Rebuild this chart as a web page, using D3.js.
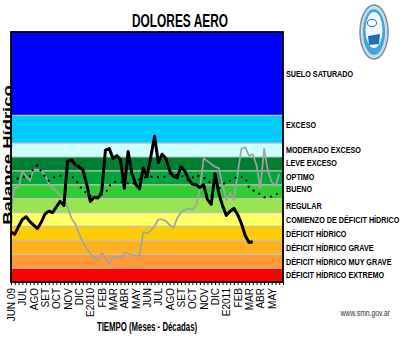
<!DOCTYPE html>
<html><head><meta charset="utf-8">
<script src="https://cdn.jsdelivr.net/npm/d3@7"></script>
<style>
html,body{margin:0;padding:0;background:#fff;}
text{font-family:"Liberation Sans",Arial,sans-serif;}
</style></head>
<body><div id="chart"></div>
<script>
// ---- data ----
const title = "DOLORES AERO";
const yTitle = "Balance Hídrico";
const xTitle = "TIEMPO (Meses - Décadas)";
const source = "www.smn.gov.ar";
const monthLabels = ["JUN 09","JUL","AGO","SET","OCT","NOV","DIC","E2010","FEB","MAR","ABR","MAY",
                     "JUN","JUL","AGO","SET","OCT","NOV","DIC","E2011","FEB","MAR","ABR","MAY"];
const bandNames = ["DÉFICIT HÍDRICO EXTREMO","DÉFICIT HÍDRICO MUY GRAVE","DÉFICIT HÍDRICO GRAVE","DÉFICIT HÍDRICO",
                   "COMIENZO DE DÉFICIT HÍDRICO","REGULAR","BUENO","OPTIMO","LEVE EXCESO","MODERADO EXCESO","EXCESO","SUELO SATURADO"];
const bandBreaks = [0,1,2,3,4,5,6,7,8,9,10,12,18];
const bandLabelValues = [0.5,1.5,2.5,3.5,4.5,5.5,6.7,7.6,8.6,9.5,11.3,15];
const bandColors = ["#FF0000","#FF9933","#FFB01F","#FFCC00","#FFFF66","#99E550","#33CC33","#00A53C","#007F33","#CCFFFF","#00CCFF","#0000FF"];

// current period (one value per decade)
const actual = [3.6,3.45,4.0,4.5,4.7,4.35,4.1,3.85,4.3,4.9,5.1,5.0,5.4,5.8,5.5,8.7,8.8,8.45,8.3,8.1,
                7.1,5.8,6.1,6.05,6.45,9.5,9.6,8.9,9.1,8.8,6.75,9.4,7.8,7.05,6.7,8.2,7.6,9.0,10.5,8.6,
                9.2,8.9,8.0,7.6,7.5,8.3,8.0,7.4,7.05,7.0,6.8,7.0,5.95,5.6,7.8,6.4,5.5,4.8,5.1,5.3,
                4.85,4.2,3.35,2.85,2.9];
// previous period
const previous = [5.2,6.8,6.8,8.0,7.6,7.3,8.1,8.1,8.0,7.7,7.1,6.8,6.5,6.25,5.9,5.4,4.6,4.2,3.5,2.85,
                  2.4,2.05,1.7,1.6,2.1,1.7,1.3,1.8,1.8,1.7,2.1,2.05,1.95,1.9,1.85,3.6,3.5,3.7,4.0,4.5,
                  4.5,4.4,4.1,3.9,4.6,5.0,5.2,5.3,5.2,5.5,6.7,8.9,8.7,8.5,8.3,8.2,7.0,5.9,6.4,5.9,
                  7.8,9.6,9.7,9.1,9.2,8.4,6.7,9.6,8.0,7.2,6.9,7.8];
// normal
const normal = [7.2,7.3,7.5,7.55,7.6,7.6,8.2,8.4,7.95,7.6,7.3,7.5,7.6,7.65,7.7,7.7,7.6,7.4,7.0,6.6,
                6.4,6.2,6.15,6.05,6.3,6.4,6.9,7.2,7.22,7.2,7.2,7.1,7.0,7.2,7.4,7.5,7.58,7.58,7.58,7.55,
                7.58,7.6,7.8,7.7,7.7,7.7,7.5,7.3,7.5,7.7,7.6,7.5,7.4,7.0,6.85,6.7,7.0,7.2,7.3,7.45,
                7.58,7.58,7.5,6.8,6.6,6.5,6.3,6.1,6.1,6.15,6.3,6.4];

// ---- drawing ----
const W = 400, H = 341;
const svg = d3.select("#chart").append("svg").attr("width", W).attr("height", H);
const x = d3.scaleLinear().domain([0, 72]).range([11, 283]);
const y = d3.scaleLinear().domain([0, 18]).range([282, 32]);

// bands
const bands = bandNames.map((n, i) => ({name: n, lo: bandBreaks[i], hi: bandBreaks[i+1], color: bandColors[i], lv: bandLabelValues[i]}));
svg.append("g").selectAll("rect").data(bands).join("rect")
  .attr("x", x(0)).attr("width", x(72) - x(0))
  .attr("y", d => y(d.hi)).attr("height", d => y(d.lo) - y(d.hi))
  .attr("fill", d => d.color);
svg.append("g").selectAll("line").data(bandBreaks.slice(1, -1)).join("line")
  .attr("x1", x(0)).attr("x2", x(72)).attr("y1", d => y(d)).attr("y2", d => y(d))
  .attr("stroke", "#C0C0C0").attr("stroke-width", 1.2);

// lines
const line = d3.line().x((d, i) => x(i)).y(d => y(d));
svg.append("path").datum(previous).attr("d", line).attr("fill", "none")
  .attr("stroke", "#A3A3A3").attr("stroke-width", 1.7).attr("stroke-linejoin", "round");
svg.append("path").datum(normal).attr("d", line).attr("fill", "none")
  .attr("stroke", "#000").attr("stroke-width", 2).attr("stroke-dasharray", "2,4.5");
svg.append("path").datum(actual).attr("d", line).attr("fill", "none")
  .attr("stroke", "#000").attr("stroke-width", 3).attr("stroke-linejoin", "round");

// frame
svg.append("rect").attr("x", x(0)).attr("y", y(18)).attr("width", x(72) - x(0)).attr("height", y(0) - y(18))
  .attr("fill", "none").attr("stroke", "#000").attr("stroke-width", 1.8);

// decade ticks
const xAxis = d3.axisBottom(x).tickValues(d3.range(0, 73)).tickSize(3).tickFormat("");
const gx = svg.append("g").attr("transform", `translate(0,${y(0)})`).call(xAxis);
gx.select(".domain").remove();
gx.selectAll(".tick line").attr("stroke", "#000").attr("stroke-width", 1);

// month labels
svg.append("g").selectAll("text").data(monthLabels).join("text")
  .attr("transform", (d, i) => `translate(${x(i*3) + 0.5},288) rotate(-90)`)
  .attr("text-anchor", "end").attr("dy", "0.35em")
  .attr("font-size", 10).attr("fill", "#000").text(d => d);

// band labels
svg.append("g").selectAll("text").data(bands).join("text")
  .attr("transform", d => `translate(286,${y(d.lv)}) scale(0.76,1)`)
  .attr("dy", "0.36em").attr("font-size", 9.5).attr("font-weight", "bold").attr("fill", "#000")
  .text(d => d.name);

// title
svg.append("text").attr("transform", "translate(180,27) scale(0.66,1)")
  .attr("text-anchor", "middle").attr("font-size", 18).attr("font-weight", "bold").text(title);

// y title
svg.append("text").attr("transform", "translate(11.5,155) scale(0.68,1) rotate(-90)")
  .attr("text-anchor", "middle").attr("font-size", 18.5).attr("font-weight", "bold").text(yTitle);

// x title
svg.append("text").attr("transform", "translate(147,331) scale(0.6,1)")
  .attr("text-anchor", "middle").attr("font-size", 13).attr("font-weight", "bold").text(xTitle);

// source
svg.append("text").attr("transform", "translate(390,316) scale(0.72,1)")
  .attr("text-anchor", "end").attr("font-size", 9.5).attr("fill", "#333").text(source);

// logo (emblem)
const logo = svg.append("g").attr("transform", "translate(374,32)");
logo.append("ellipse").attr("rx", 14).attr("ry", 27).attr("fill", "#C9DDE8").attr("stroke", "#7f8f9c").attr("stroke-width", 1.5);
logo.append("ellipse").attr("rx", 11).attr("ry", 23).attr("fill", "#3FA6DE");
logo.append("ellipse").attr("cy", -2).attr("rx", 8.5).attr("ry", 18).attr("fill", "#F2F8FC");
logo.append("ellipse").attr("cx", -2).attr("cy", -9).attr("rx", 4.5).attr("ry", 3.5).attr("fill", "#fff").attr("stroke", "#1f6fb0");
logo.append("path").attr("d", "M-6,4 L6,2 L5,12 L-5,13 Z").attr("fill", "#1f6fb0");
</script>
</body></html>
